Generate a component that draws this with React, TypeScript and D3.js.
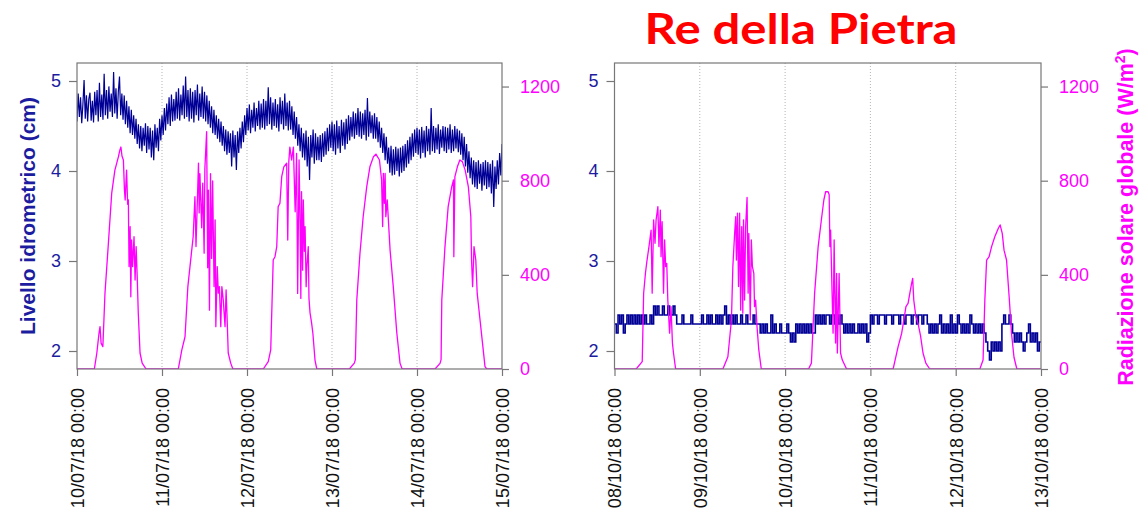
import React, { useEffect, useRef } from "react";
import * as d3 from "d3";

const W = 1139;
const H = 512;

const levelTicks = [2, 3, 4, 5];
const radTicks = [0, 400, 800, 1200];
const levelDomain = [1.8, 5.2];
const radDomain = [0, 1300];

const julyStart = Date.UTC(2018, 6, 10);
const octStart = Date.UTC(2018, 9, 8);

// Water level (cm), 10/07/18 00:00 – 15/07/18 00:00, one reading every 20 minutes
const levelJuly = [
  // 10/07
  4.55, 4.86, 4.6, 4.82, 4.53, 4.74, 5.01, 4.58, 4.84, 4.55, 4.8, 4.87,
  4.56, 4.78, 4.54, 4.88, 4.62, 4.9, 4.55, 4.98, 4.6, 4.85, 4.57, 5.08,
  4.62, 4.9, 4.58, 4.94, 4.66, 4.86, 4.6, 5.1, 4.64, 4.92, 4.58, 4.88,
  5.05, 4.62, 4.86, 4.57, 4.84, 4.52, 4.78, 4.48, 4.72, 4.42, 4.68, 4.4,
  4.62, 4.36, 4.58, 4.3, 4.52, 4.25, 4.5, 4.22, 4.48, 4.28, 4.53, 4.2,
  4.5, 4.24, 4.48, 4.15, 4.45, 4.12, 4.52, 4.26, 4.48, 4.22, 4.58, 4.34,
  // 11/07
  4.62, 4.4, 4.7, 4.45, 4.75, 4.52, 4.82, 4.5, 4.85, 4.55, 4.8, 4.56,
  4.88, 4.58, 4.92, 4.56, 4.85, 4.62, 4.95, 4.58, 5.05, 4.6, 4.9, 4.55,
  4.92, 4.58, 4.88, 4.54, 4.9, 4.62, 4.96, 4.56, 4.86, 4.6, 4.94, 4.58,
  4.88, 4.55, 4.84, 4.52, 4.78, 4.48, 4.72, 4.42, 4.68, 4.4, 4.62, 4.36,
  4.58, 4.32, 4.55, 4.28, 4.5, 4.22, 4.46, 4.18, 4.44, 4.2, 4.42, 4.05,
  4.45, 4.15, 4.4, 4.01, 4.44, 4.2, 4.48, 4.25, 4.55, 4.32, 4.62, 4.4,
  // 12/07
  4.7, 4.45, 4.74, 4.42, 4.68, 4.48, 4.76, 4.44, 4.7, 4.5, 4.78, 4.46,
  4.75, 4.48, 4.8, 4.46, 4.78, 4.5, 4.93, 4.52, 4.82, 4.46, 4.76, 4.5,
  4.8, 4.48, 4.74, 4.44, 4.82, 4.52, 4.78, 4.46, 4.86, 4.5, 4.76, 4.45,
  4.78, 4.46, 4.72, 4.4, 4.66, 4.36, 4.6, 4.28, 4.52, 4.22, 4.48, 4.15,
  4.42, 4.12, 4.45, 4.05, 4.38, 3.9, 4.4, 4.15, 4.46, 4.08, 4.42, 4.12,
  4.38, 4.12, 4.4, 4.1, 4.42, 4.16, 4.44, 4.18, 4.48, 4.22, 4.52, 4.26,
  // 13/07
  4.55, 4.22, 4.52, 4.18, 4.56, 4.25, 4.5, 4.2, 4.57, 4.28, 4.54, 4.24,
  4.58, 4.3, 4.62, 4.34, 4.6, 4.38, 4.66, 4.36, 4.64, 4.4, 4.7, 4.38,
  4.66, 4.36, 4.64, 4.4, 4.68, 4.34, 4.81, 4.38, 4.66, 4.42, 4.62, 4.36,
  4.64, 4.36, 4.6, 4.32, 4.55, 4.26, 4.48, 4.2, 4.42, 4.12, 4.38, 4.08,
  4.26, 3.98, 4.28, 3.95, 4.24, 3.96, 4.27, 4.0, 4.25, 3.94, 4.26, 3.98,
  4.28, 4.0, 4.3, 4.04, 4.34, 4.08, 4.38, 4.12, 4.42, 4.16, 4.46, 4.2,
  // 14/07
  4.48, 4.18, 4.46, 4.14, 4.49, 4.2, 4.45, 4.15, 4.5, 4.22, 4.47, 4.18,
  4.7, 4.22, 4.5, 4.2, 4.48, 4.24, 4.52, 4.19, 4.46, 4.26, 4.5, 4.22,
  4.49, 4.2, 4.48, 4.24, 4.52, 4.2, 4.46, 4.22, 4.5, 4.25, 4.47, 4.21,
  4.45, 4.18, 4.42, 4.12, 4.38, 4.05, 4.3, 3.98, 4.22, 3.92, 4.15, 3.85,
  4.12, 3.82, 4.1, 3.8, 4.12, 3.86, 4.08, 3.78, 4.1, 3.84, 4.12, 3.8,
  4.1, 3.82, 4.08, 3.75, 4.12, 3.6, 4.05, 3.8, 4.12, 3.85, 4.2, 3.95,
  // 15/07 00:00
  4.3,
];

// Water level (cm), 08/10/18 00:00 – 13/10/18 00:00, one reading every 30 minutes
const levelOct = [
  // 08/10
  2.3, 2.2, 2.4, 2.3, 2.4, 2.2, 2.3, 2.4, 2.3, 2.4, 2.3, 2.4,
  2.3, 2.4, 2.3, 2.4, 2.3, 2.4, 2.3, 2.3, 2.4, 2.3, 2.5, 2.4,
  2.5, 2.4, 2.4, 2.5, 2.4, 2.4, 2.5, 2.4, 2.4, 2.5, 2.4, 2.3,
  2.3, 2.3, 2.4, 2.3, 2.3, 2.3, 2.3, 2.4, 2.3, 2.3, 2.3, 2.3,
  // 09/10
  2.3, 2.4, 2.3, 2.3, 2.4, 2.3, 2.4, 2.3, 2.3, 2.4, 2.3, 2.4,
  2.3, 2.4, 2.5, 2.3, 2.4, 2.3, 2.4, 2.3, 2.4, 2.3, 2.3, 2.4,
  2.3, 2.3, 2.4, 2.3, 2.3, 2.3, 2.4, 2.3, 2.3, 2.3, 2.2, 2.3,
  2.2, 2.3, 2.2, 2.2, 2.4, 2.2, 2.3, 2.2, 2.2, 2.3, 2.2, 2.2,
  // 10/10
  2.2, 2.3, 2.2, 2.1, 2.2, 2.1, 2.3, 2.2, 2.3, 2.2, 2.3, 2.2,
  2.3, 2.2, 2.3, 2.2, 2.2, 2.4, 2.3, 2.4, 2.3, 2.4, 2.3, 2.4,
  2.4, 2.3, 2.4, 2.4, 2.3, 2.4, 2.3, 2.4, 2.3, 2.2, 2.3, 2.2,
  2.3, 2.2, 2.3, 2.2, 2.2, 2.3, 2.2, 2.3, 2.2, 2.3, 2.1, 2.2,
  // 11/10
  2.4, 2.3, 2.4, 2.4, 2.3, 2.4, 2.4, 2.4, 2.3, 2.4, 2.4, 2.4,
  2.3, 2.4, 2.4, 2.4, 2.3, 2.4, 2.4, 2.3, 2.4, 2.4, 2.4, 2.3,
  2.4, 2.4, 2.3, 2.4, 2.4, 2.3, 2.4, 2.4, 2.3, 2.2, 2.3, 2.2,
  2.3, 2.2, 2.3, 2.4, 2.2, 2.3, 2.2, 2.3, 2.2, 2.4, 2.2, 2.3,
  // 12/10
  2.2, 2.4, 2.3, 2.2, 2.3, 2.2, 2.3, 2.2, 2.4, 2.3, 2.2, 2.3,
  2.2, 2.3, 2.2, 2.3, 2.2, 2.1, 2.0, 1.9, 2.1, 2.0, 2.1, 2.0,
  2.1, 2.0, 2.3, 2.4, 2.3, 2.3, 2.4, 2.3, 2.2, 2.1, 2.2, 2.1,
  2.2, 2.1, 2.0, 2.1, 2.2, 2.3, 2.1, 2.2, 2.1, 2.2, 2.0, 2.1,
  // 13/10 00:00
  2.1,
];

// Global solar radiation (W/m²), [hour of day, value], July
const radJul10 = [[4.9, 0], [5.6, 68], [6.2, 150], [6.5, 180], [6.8, 110], [7.3, 95], [7.9, 322], [8.8, 520], [9.8, 747], [10.7, 845], [11.7, 902], [12.1, 930], [12.4, 943], [12.7, 905], [13.1, 888], [13.4, 760], [13.6, 718], [14.0, 845], [14.3, 700], [14.5, 718], [14.7, 435], [15.0, 605], [15.2, 307], [15.4, 548], [15.7, 435], [16.1, 562], [16.4, 378], [16.7, 520], [17.0, 392], [17.3, 238], [17.8, 68], [18.4, 25], [19.5, 0]];
const radJul11 = [[4.6, 0], [5.6, 81], [6.5, 137], [7.3, 350], [7.9, 435], [8.8, 562], [9.3, 732], [9.6, 520], [10.3, 875], [10.5, 663], [10.7, 830], [11.2, 600], [11.5, 790], [11.9, 492], [12.1, 850], [12.6, 1008], [12.9, 430], [13.1, 760], [13.4, 250], [13.7, 830], [14.0, 470], [14.3, 799], [14.7, 350], [15.0, 633], [15.2, 180], [15.6, 435], [15.9, 322], [16.2, 350], [16.6, 180], [16.9, 350], [17.3, 293], [17.8, 180], [18.1, 336], [18.4, 208], [18.7, 68], [19.4, 25], [20.0, 0]];
const radJul12 = [[4.6, 0], [6.0, 31], [6.7, 81], [7.4, 463], [7.9, 477], [8.4, 520], [8.8, 690], [9.3, 704], [9.8, 817], [10.4, 859], [11.2, 874], [11.5, 548], [11.8, 880], [12.1, 943], [12.6, 888], [13.1, 943], [13.6, 668], [14.0, 916], [14.3, 321], [14.7, 888], [15.0, 605], [15.2, 300], [15.4, 753], [15.7, 420], [15.9, 718], [16.2, 500], [16.4, 605], [16.7, 350], [16.9, 435], [17.3, 520], [17.5, 300], [17.8, 238], [18.2, 200], [18.6, 152], [19.2, 38], [19.7, 0]];
const radJul13 = [[4.9, 0], [6.3, 25], [6.6, 40], [7.0, 293], [7.9, 492], [8.8, 647], [9.8, 774], [10.7, 859], [11.7, 902], [12.4, 913], [13.4, 888], [14.0, 803], [14.3, 605], [14.5, 831], [14.8, 704], [15.0, 831], [15.2, 647], [15.6, 718], [16.4, 505], [17.3, 350], [18.3, 153], [19.2, 25], [19.8, 0]];
const radJul14 = [[5.1, 0], [6.5, 24], [6.8, 40], [7.0, 293], [7.9, 520], [8.8, 690], [9.8, 774], [10.3, 803], [10.4, 477], [10.7, 817], [11.4, 859], [12.1, 888], [12.8, 881], [13.6, 845], [14.5, 774], [15.2, 647], [15.4, 463], [15.7, 350], [16.1, 520], [16.6, 463], [17.0, 321], [17.8, 208], [18.6, 95], [19.2, 10], [19.7, 0]];

// Global solar radiation (W/m²), [hour of day, value], October
const radOct08 = [[6.1, 0], [7.8, 31], [8.2, 322], [8.7, 406], [9.1, 456], [9.7, 520], [10.3, 590], [10.6, 322], [11.0, 633], [11.4, 534], [11.7, 633], [12.2, 690], [12.5, 520], [12.9, 675], [13.1, 477], [13.4, 626], [13.8, 322], [14.1, 548], [14.4, 435], [14.7, 449], [15.0, 293], [15.5, 152], [15.9, 265], [16.3, 110], [16.6, 68], [17.2, 0]];
const radOct09 = [[6.5, 0], [7.9, 52], [8.9, 208], [9.3, 435], [9.8, 576], [10.1, 647], [10.3, 463], [10.6, 662], [10.9, 350], [11.2, 662], [11.5, 250], [11.8, 605], [12.1, 237], [12.3, 633], [12.6, 293], [12.9, 605], [13.3, 729], [13.6, 322], [13.8, 576], [14.2, 208], [14.5, 548], [14.8, 435], [15.2, 406], [15.4, 265], [15.7, 293], [16.1, 180], [16.6, 81], [17.3, 0]];
const radOct10 = [[6.6, 0], [7.4, 25], [8.3, 321], [9.3, 520], [10.2, 633], [10.9, 718], [11.4, 753], [12.1, 753], [12.4, 740], [12.6, 520], [12.8, 590], [13.2, 336], [13.5, 152], [13.8, 548], [14.2, 110], [14.5, 406], [14.7, 68], [15.2, 406], [15.6, 68], [16.1, 38], [17.3, 0]];
const radOct11 = [[6.4, 0], [7.8, 95], [8.8, 152], [9.4, 208], [10.0, 265], [10.6, 279], [11.1, 322], [11.6, 364], [11.9, 385], [12.2, 293], [12.8, 222], [13.4, 194], [14.1, 142], [14.8, 68], [15.6, 25], [16.7, 0]];
const radOct12 = [[6.8, 0], [7.7, 38], [8.2, 293], [8.7, 463], [9.4, 477], [10.1, 520], [11.0, 562], [12.0, 598], [12.5, 612], [13.1, 576], [13.6, 505], [14.3, 463], [15.1, 293], [15.7, 152], [16.4, 50], [17.2, 0]];

const radJuly = [radJul10, radJul11, radJul12, radJul13, radJul14];
const radOct = [radOct08, radOct09, radOct10, radOct11, radOct12];

const HOUR = 3600 * 1000;
const DAY = 24 * HOUR;

const NAVY = "#000096";
const NAVY_TEXT = "#1c1ca0";
const MAGENTA = "#ff00ff";
const FRAME = "#777777";
const FONT = "'Liberation Sans', Arial, Helvetica, sans-serif";

type Panel = {
  id: string;
  start: number;
  days: number;
  level: number[];
  levelStepMinutes: number;
  stepped: boolean;
  levelWidth: number;
  rad: number[][][];
  left: number;
  right: number;
};

const panels: Panel[] = [
  { id: "jul", start: julyStart, days: 5, level: levelJuly, levelStepMinutes: 20, stepped: false, levelWidth: 1.2, rad: radJuly, left: 77, right: 502 },
  { id: "oct", start: octStart, days: 5, level: levelOct, levelStepMinutes: 30, stepped: true, levelWidth: 1.6, rad: radOct, left: 614.5, right: 1041 },
];

const TOP = 63;
const BOTTOM = 369;

function solarSeries(start: number, days: number[][][]) {
  const pts: { t: number; v: number }[] = [{ t: start, v: 0 }];
  days.forEach((day, d) => {
    day.forEach(([h, v]) => pts.push({ t: start + d * DAY + h * HOUR, v }));
  });
  pts.push({ t: start + days.length * DAY, v: 0 });
  return pts;
}

export default function App() {
  const ref = useRef<SVGSVGElement>(null);

  useEffect(() => {
    const svg = d3.select(ref.current);
    svg.selectAll("*").remove();

    const fmt = d3.utcFormat("%d/%m/%y %H:%M");

    panels.forEach((p) => {
      const end = p.start + p.days * DAY;
      const x = d3.scaleUtc().domain([new Date(p.start), new Date(end)]).range([p.left, p.right]);
      const yL = d3.scaleLinear().domain(levelDomain).range([BOTTOM, TOP]);
      const yR = d3.scaleLinear().domain(radDomain).range([BOTTOM, TOP]);
      const dayTicks = x.ticks(d3.utcDay.every(1)!);

      const g = svg.append("g");

      svg
        .append("clipPath")
        .attr("id", `clip-${p.id}`)
        .append("rect")
        .attr("x", p.left)
        .attr("y", TOP)
        .attr("width", p.right - p.left)
        .attr("height", BOTTOM - TOP);

      // dotted day separators
      g.selectAll("line.grid")
        .data(dayTicks.slice(1, -1))
        .join("line")
        .attr("class", "grid")
        .attr("x1", (d) => x(d))
        .attr("x2", (d) => x(d))
        .attr("y1", TOP)
        .attr("y2", BOTTOM)
        .attr("stroke", "#b4b4b4")
        .attr("stroke-width", 1)
        .attr("stroke-dasharray", "1,2");

      const plot = g.append("g").attr("clip-path", `url(#clip-${p.id})`);

      // water level
      const levelPts = p.level.map((v, i) => ({ t: p.start + i * p.levelStepMinutes * 60 * 1000, v }));
      const levelLine = d3
        .line<{ t: number; v: number }>()
        .x((d) => x(new Date(d.t)))
        .y((d) => yL(d.v))
        .curve(p.stepped ? d3.curveStepAfter : d3.curveLinear);
      plot
        .append("path")
        .attr("d", levelLine(levelPts))
        .attr("fill", "none")
        .attr("stroke", NAVY)
        .attr("stroke-width", p.levelWidth);

      // solar radiation
      const radPts = solarSeries(p.start, p.rad);
      const radLine = d3
        .line<{ t: number; v: number }>()
        .x((d) => x(new Date(d.t)))
        .y((d) => yR(d.v));
      plot
        .append("path")
        .attr("d", radLine(radPts))
        .attr("fill", "none")
        .attr("stroke", MAGENTA)
        .attr("stroke-width", 1.3)
        .attr("stroke-linejoin", "round");

      // frame
      g.append("rect")
        .attr("x", p.left)
        .attr("y", TOP)
        .attr("width", p.right - p.left)
        .attr("height", BOTTOM - TOP)
        .attr("fill", "none")
        .attr("stroke", FRAME)
        .attr("stroke-width", 1.2);

      // left axis
      const axL = g
        .append("g")
        .attr("transform", `translate(${p.left},0)`)
        .call(d3.axisLeft(yL).tickValues(levelTicks).tickSize(8).tickPadding(8).tickFormat(d3.format("d")));
      axL.select(".domain").remove();
      axL.selectAll("line").attr("stroke", FRAME).attr("stroke-width", 1.2);
      axL.selectAll("text").attr("fill", NAVY_TEXT).style("font-size", "18px").style("font-family", FONT);

      // right axis
      const axR = g
        .append("g")
        .attr("transform", `translate(${p.right},0)`)
        .call(d3.axisRight(yR).tickValues(radTicks).tickSize(7).tickPadding(11).tickFormat(d3.format("d")));
      axR.select(".domain").remove();
      axR.selectAll("line").attr("stroke", FRAME).attr("stroke-width", 1.2);
      axR.selectAll("text").attr("fill", MAGENTA).style("font-size", "18px").style("font-family", FONT);

      // time axis
      const axB = g
        .append("g")
        .attr("transform", `translate(0,${BOTTOM})`)
        .call(d3.axisBottom(x).tickValues(dayTicks).tickSize(7).tickFormat((d) => fmt(d as Date)));
      axB.select(".domain").remove();
      axB.selectAll("line").attr("stroke", FRAME).attr("stroke-width", 1.2);
      axB
        .selectAll("text")
        .attr("fill", "#111")
        .attr("transform", "rotate(-90)")
        .attr("x", -19)
        .attr("y", 0)
        .attr("dy", "0.35em")
        .style("text-anchor", "end")
        .style("font-size", "18px")
        .style("font-family", FONT);
    });

    // axis titles
    svg
      .append("text")
      .attr("transform", `translate(35,216) rotate(-90)`)
      .attr("text-anchor", "middle")
      .attr("fill", NAVY_TEXT)
      .style("font-family", FONT)
      .style("font-weight", "bold")
      .style("font-size", "21px")
      .text("Livello idrometrico (cm)");

    const rt = svg
      .append("text")
      .attr("transform", `translate(1133,217) rotate(-90)`)
      .attr("text-anchor", "middle")
      .attr("fill", MAGENTA)
      .style("font-family", FONT)
      .style("font-weight", "bold")
      .style("font-size", "21.5px");
    rt.append("tspan").text("Radiazione solare globale (W/m");
    rt.append("tspan").attr("baseline-shift", "super").style("font-size", "14px").text("2");
    rt.append("tspan").text(")");

    // site name
    svg
      .append("text")
      .attr("x", 801)
      .attr("y", 44)
      .attr("text-anchor", "middle")
      .attr("fill", "#ff0000")
      .attr("textLength", 313)
      .attr("lengthAdjust", "spacingAndGlyphs")
      .style("font-family", "Lato, 'Open Sans', sans-serif")
      .style("font-weight", "bold")
      .style("font-size", "42px")
      .text("Re della Pietra");
  }, []);

  return (
    <svg
      ref={ref}
      width={W}
      height={H}
      style={{ position: "absolute", left: 0, top: 0, background: "#fff" }}
    />
  );
}
